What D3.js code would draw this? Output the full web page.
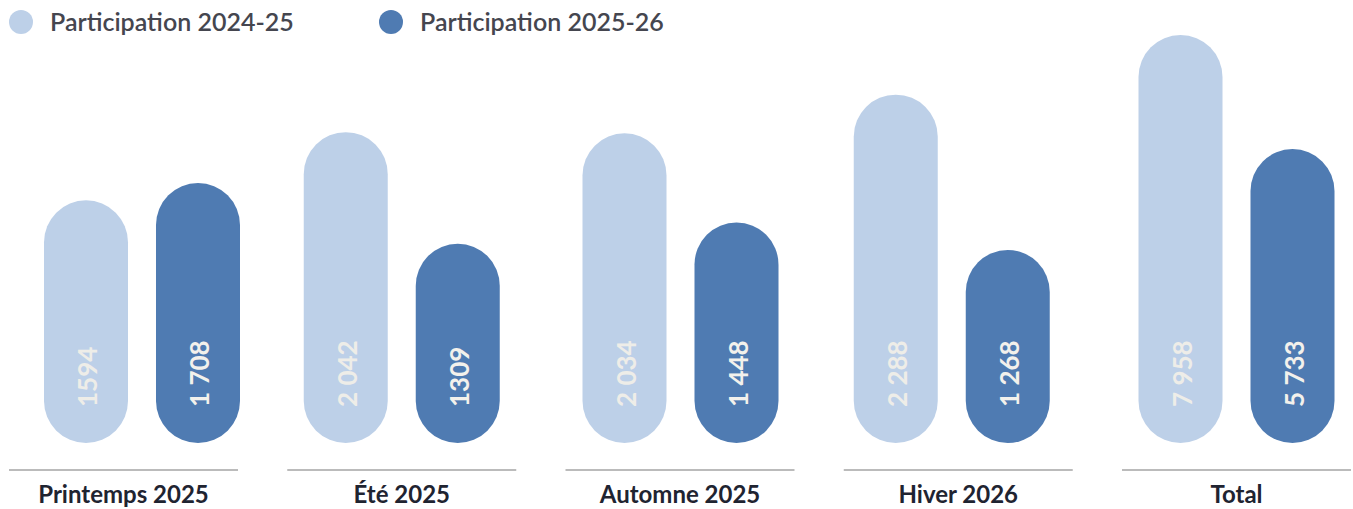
<!DOCTYPE html>
<html>
<head>
<meta charset="utf-8">
<script src="https://cdn.jsdelivr.net/npm/d3@7"></script>
<style>
  html, body { margin: 0; padding: 0; background: #ffffff; }
  svg { display: block; }
</style>
</head>
<body>
<svg id="chart" width="1353" height="509"></svg>
<script>
// ---- data ----
const categories = ["Printemps 2025", "Été 2025", "Automne 2025", "Hiver 2026", "Total"];
const seriesNames = ["Participation 2024-25", "Participation 2025-26"];
const values2425 = [1594, 2042, 2034, 2288, 7958];
const values2526 = [1708, 1309, 1448, 1268, 5733];
const labels2425 = ["1594", "2 042", "2 034", "2 288", "7 958"];
const labels2526 = ["1 708", "1309", "1 448", "1 268", "5 733"];

// ---- layout / style ----
const W = 1353, H = 509;
const baseY = 443, topY = 35;
const lineY = 470;
const pairShift = [18.5, 0, 0.5, -6.5, 0];
const colors = ["#bdd0e8", "#4f7bb2"];
const labelColors = ["#eeede8", "#f3f1ec"];
const font = "Lato, 'Open Sans', sans-serif";

const svg = d3.select("#chart");

const x = d3.scaleBand().domain(categories).range([9, 1351]).paddingInner(0.177).paddingOuter(0);
const xs = d3.scaleBand().domain(seriesNames).range([-98, 98]).paddingInner(0.25).paddingOuter(0);
const ySeason = d3.scaleLinear().domain([0, 2680]).range([baseY, topY]);
const yTotal = d3.scaleLinear().domain([0, 7958]).range([baseY, topY]);
const yFor = c => (c === "Total" ? yTotal : ySeason);

const rows = [];
categories.forEach((c, i) => {
  [values2425, values2526].forEach((vals, s) => {
    rows.push({ cat: c, i, s, series: seriesNames[s], value: vals[i], label: [labels2425, labels2526][s][i] });
  });
});

// legend
const legend = svg.append("g");
const legX = [21, 391];
seriesNames.forEach((n, s) => {
  legend.append("circle").attr("cx", legX[s]).attr("cy", 22).attr("r", 12).attr("fill", colors[s]);
  legend.append("text").attr("x", legX[s] + 29).attr("y", 31)
    .attr("font-family", font).attr("font-weight", 600).attr("font-size", 25).attr("fill", "#45464f")
    .text(n);
});

// bars
const bx = d => x(d.cat) + x.bandwidth() / 2 + pairShift[d.i] + xs(d.series);
svg.append("g").selectAll("rect").data(rows).join("rect")
  .attr("x", d => bx(d))
  .attr("width", xs.bandwidth())
  .attr("y", d => yFor(d.cat)(d.value))
  .attr("height", d => baseY - yFor(d.cat)(d.value))
  .attr("rx", xs.bandwidth() / 2).attr("ry", xs.bandwidth() / 2)
  .attr("fill", d => colors[d.s]);

// value labels (rotated)
svg.append("g").selectAll("text").data(rows).join("text")
  .attr("transform", d => `translate(${bx(d) + xs.bandwidth() / 2 + 11},407) rotate(-90)`)
  .attr("font-family", font).attr("font-weight", "bold").attr("font-size", 26)
  .attr("fill", d => labelColors[d.s])
  .attr("text-anchor", "start")
  .text(d => d.label);

// baseline segments
svg.append("g").selectAll("line").data(categories).join("line")
  .attr("x1", d => x(d)).attr("x2", d => x(d) + x.bandwidth())
  .attr("y1", lineY).attr("y2", lineY)
  .attr("stroke", "#a5a5a5").attr("stroke-width", 1.5);

// category labels
svg.append("g").selectAll("text").data(categories).join("text")
  .attr("x", d => x(d) + x.bandwidth() / 2).attr("y", 503)
  .attr("text-anchor", "middle")
  .attr("font-family", font).attr("font-weight", "bold").attr("font-size", 24)
  .attr("fill", "#1f2431")
  .text(d => d);
</script>
</body>
</html>
